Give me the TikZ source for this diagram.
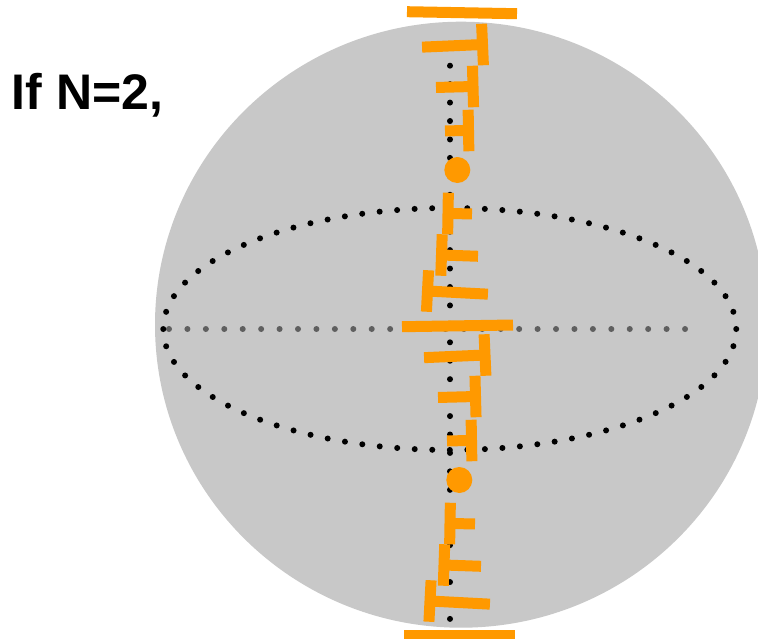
\documentclass[tikz,border=0pt]{standalone}
\usepackage{fontspec}
\setmainfont{Liberation Sans}
\definecolor{orng}{RGB}{255,153,0}
\definecolor{disc}{RGB}{200,200,200}
\definecolor{midgrey}{RGB}{95,95,95}
\tikzset{
  teeline/.style={orng, line width=11pt, line cap=butt},
  blackdot/.style={fill=black},
  greydot/.style={fill=midgrey},
}
% cx, cy, signed stem length, visual ccw angle
\newcommand\drawTee[4]{%
  \begin{scope}[rotate around={#4:(#1,#2)}]
    \draw[teeline] (#1,{#2-20.75}) -- (#1,{#2+20.75});
    \draw[teeline] (#1,#2) -- ({#1+(#3)},#2);
  \end{scope}}
\begin{document}
\begin{tikzpicture}[x=1pt,y=-1pt]
  \useasboundingbox (0,0) rectangle (758,638);
  \fill[white] (0,0) rectangle (758,638);
  % sphere
  \fill[disc] (461,324.7) ellipse [x radius=306pt, y radius=303pt];
  % equator diameter (grey dots)
  \foreach \i in {0,...,28} \fill[greydot] ({169+18.43*\i},329) circle (3pt);
  % equator ellipse (black dots)
  \draw[line width=6pt, line cap=round, dash pattern=on 0pt off 17.55pt]
    (449.75,329) ellipse [x radius=286.5pt, y radius=121pt];
  % axis (black dots)
  \foreach \i in {0,...,30} \fill[blackdot] (450,{65.7+18.44*\i}) circle (3pt);
  % orange bars
  \draw[teeline] (407,11.7) -- (517,13.7);
  \draw[teeline] (402,326.7) -- (513,325);
  \draw[teeline] (404,635.5) -- (515,635.5);
  % upper half tees
  \drawTee{482.5}{44.5}{-60.5}{2.5}
  \drawTee{473}{86.5}{-37}{1.5}
  \drawTee{468.5}{130.5}{-23.5}{1}
  \drawTee{448}{213.5}{24}{-1}
  \drawTee{441.5}{255}{36.5}{-2}
  \drawTee{427.5}{291}{60.5}{-3}
  % lower half tees
  \drawTee{485}{355}{-61}{2.5}
  \drawTee{475.5}{396.5}{-37.5}{1.5}
  \drawTee{471.5}{440.5}{-24.5}{1}
  \drawTee{450}{523.5}{25}{-1}
  \drawTee{444}{565}{37}{-2}
  \drawTee{430}{601}{60}{-3}
  % orange balls
  \fill[orng] (457.3,170) circle (13pt);
  \fill[orng] (459.3,480) circle (13pt);
  % label
  \node[anchor=base west, inner sep=0pt, font=\bfseries\fontsize{50}{60}\selectfont] (title) at (11.8,109.3) {If N=2,};
\end{tikzpicture}
\end{document}
